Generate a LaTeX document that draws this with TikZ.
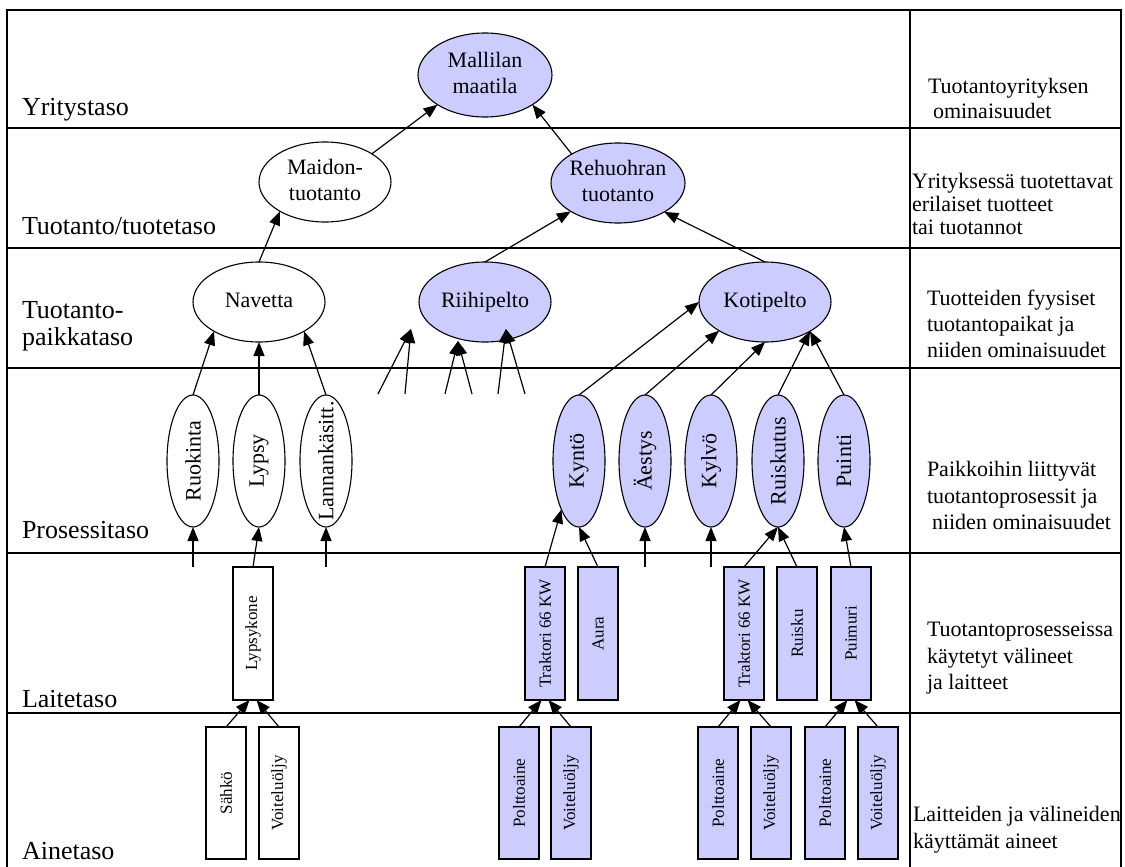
\documentclass[tikz,border=0pt]{standalone}
\usepackage{fontspec}
\setmainfont{Liberation Serif}
\usetikzlibrary{shapes.geometric,arrows.meta}
\definecolor{lavender}{RGB}{204,204,255}
% centred text of zero width, so the shape keeps its given size
\newcommand{\ctext}[1]{\makebox[0pt]{\begin{tabular}{@{}c@{}}#1\end{tabular}}}
\newcommand{\vtext}[1]{\rotatebox{90}{\makebox[0pt]{#1}}}
\begin{document}
\begin{tikzpicture}[x=1pt,y=-1pt,
  every node/.style={inner sep=0pt, outer sep=0pt},
  oval/.style={ellipse, draw, line width=1.1pt, minimum width=132pt, minimum height=80pt,
    font=\fontsize{22}{26}\selectfont},
  proc/.style={ellipse, draw, line width=1.1pt, minimum width=52pt, minimum height=132pt,
    font=\fontsize{22}{26}\selectfont},
  unitbox/.style={rectangle, draw, line width=1.1pt, minimum width=40pt, minimum height=133pt,
    font=\fontsize{17}{20}\selectfont},
  lavfill/.style={fill=lavender},
  whitefill/.style={fill=white},
  lvl/.style={anchor=base west, font=\fontsize{26}{30}\selectfont},
  sidenote/.style={anchor=base west, font=\fontsize{22}{26}\selectfont},
  link/.style={line width=1.2pt, -{Triangle[length=14pt,width=11pt]}},
  rowthin/.style={line width=1.3pt},
  rowthick/.style={line width=2pt}
]
\useasboundingbox (0,0) rectangle (1125,867);

% frame and level rows
\draw[line width=1.5pt] (7,867) -- (7,10) -- (1121,10) -- (1121,867);
\draw[line width=1.5pt] (910,10) -- (910,867);
\draw[rowthin]  (7,128) -- (1121,128);
\draw[rowthick] (7,248) -- (1121,248);
\draw[rowthin]  (7,368) -- (1121,368);
\draw[rowthick] (7,553) -- (1121,553);
\draw[rowthick] (7,713) -- (1121,713);

% level names
\node[lvl] (l1)  at (22,115) {Yritystaso};
\node[lvl] (l2)  at (22,234) {Tuotanto/tuotetaso};
\node[lvl] (l3a) at (22,318) {Tuotanto-};
\node[lvl] (l3b) at (22,345) {paikkataso};
\node[lvl] (l4)  at (22,538) {Prosessitaso};
\node[lvl] (l5)  at (22,707) {Laitetaso};
\node[lvl] (l6)  at (22,859) {Ainetaso};

% level descriptions
\node[sidenote] (d1a) at (928,93)  {Tuotantoyrityksen};
\node[sidenote] (d1b) at (933,118) {ominaisuudet};
\node[sidenote] (d2a) at (912,188) {Yrityksessä tuotettavat};
\node[sidenote] (d2b) at (912,211) {erilaiset tuotteet};
\node[sidenote] (d2c) at (912,234) {tai tuotannot};
\node[sidenote] (d3a) at (927,305) {Tuotteiden fyysiset};
\node[sidenote] (d3b) at (927,331) {tuotantopaikat ja};
\node[sidenote] (d3c) at (927,357) {niiden ominaisuudet};
\node[sidenote] (d4a) at (927,476) {Paikkoihin liittyvät};
\node[sidenote] (d4b) at (927,503) {tuotantoprosessit ja};
\node[sidenote] (d4c) at (932,529) {niiden ominaisuudet};
\node[sidenote] (d5a) at (927,636) {Tuotantoprosesseissa};
\node[sidenote] (d5b) at (927,663) {käytetyt välineet};
\node[sidenote] (d5c) at (927,689) {ja laitteet};
\node[sidenote] (d6a) at (913,821) {Laitteiden ja välineiden};
\node[sidenote] (d6b) at (913,848) {käyttämät aineet};

% enterprise, products, places
\node[oval, lavfill, minimum width=134pt, minimum height=84pt] (mall) at (485,75) {\ctext{Mallilan\\maatila}};
\node[oval, whitefill] (maid) at (325,182) {\ctext{Maidon-\\tuotanto}};
\node[oval, lavfill, minimum width=134pt] (rehu) at (618,183) {\ctext{Rehuohran\\tuotanto}};
\node[oval, whitefill] (nav)  at (259,302) {\ctext{Navetta}};
\node[oval, lavfill]   (riih) at (485,302) {\ctext{Riihipelto}};
\node[oval, lavfill]   (koti) at (765,302) {\ctext{Kotipelto}};

% processes
\node[proc, whitefill] (ruok) at (193,461) {\vtext{Ruokinta}};
\node[proc, whitefill] (lyps) at (259,461) {\vtext{Lypsy}};
\node[proc, whitefill] (lann) at (326,461) {\vtext{Lannankäsitt.}};
\node[proc, lavfill] (kynt) at (579,461) {\vtext{Kyntö}};
\node[proc, lavfill] (aest) at (645,461) {\vtext{Äestys}};
\node[proc, lavfill] (kylv) at (711,461) {\vtext{Kylvö}};
\node[proc, lavfill] (ruis) at (778,461) {\vtext{Ruiskutus}};
\node[proc, lavfill] (puin) at (844,461) {\vtext{Puinti}};

% machines
\node[unitbox, whitefill] (lypk)  at (253,633.5) {\rotatebox{90}{Lypsykone}};
\node[unitbox, lavfill] (trak1) at (545,633.5) {\rotatebox{90}{Traktori 66 KW}};
\node[unitbox, lavfill] (aura)  at (598,633.5) {\rotatebox{90}{Aura}};
\node[unitbox, lavfill] (trak2) at (744,633.5) {\rotatebox{90}{Traktori 66 KW}};
\node[unitbox, lavfill] (ruisk) at (797,633.5) {\rotatebox{90}{Ruisku}};
\node[unitbox, lavfill] (puim)  at (851,633.5) {\rotatebox{90}{Puimuri}};

% materials
\node[unitbox, whitefill, minimum height=132pt] (sahk)  at (226,793) {\rotatebox{90}{Sähkö}};
\node[unitbox, whitefill, minimum height=132pt] (voit1) at (279,793) {\rotatebox{90}{Voiteluöljy}};
\node[unitbox, lavfill, minimum height=132pt] (polt1) at (519,793) {\rotatebox{90}{Polttoaine}};
\node[unitbox, lavfill, minimum height=132pt] (voit2) at (571,793) {\rotatebox{90}{Voiteluöljy}};
\node[unitbox, lavfill, minimum height=132pt] (polt2) at (718,793) {\rotatebox{90}{Polttoaine}};
\node[unitbox, lavfill, minimum height=132pt] (voit3) at (771,793) {\rotatebox{90}{Voiteluöljy}};
\node[unitbox, lavfill, minimum height=132pt] (polt3) at (825,793) {\rotatebox{90}{Polttoaine}};
\node[unitbox, lavfill, minimum height=132pt] (voit4) at (878,793) {\rotatebox{90}{Voiteluöljy}};

% loose connector ends
\coordinate (s1) at (193,567);
\coordinate (s2) at (326,567);
\coordinate (s3) at (645,567);
\coordinate (s4) at (711,567);
\coordinate (f1) at (378,394);
\coordinate (f2) at (405,394);
\coordinate (t1) at (411,329);
\coordinate (f3) at (445,394);
\coordinate (f4) at (472,394);
\coordinate (t2) at (458,341);
\coordinate (f5) at (498,394);
\coordinate (f6) at (525,394);
\coordinate (t3) at (506,329);

% upper connectors
\draw[link] (maid.31) -- (mall.212);
\draw[link] (rehu.148) -- (mall.328);
\draw[link] (nav.north) -- (maid.213);
\draw[link] (riih.north) -- (rehu.211);
\draw[link] (koti.north) -- (rehu.328);
\draw[link] (ruok.north) -- (nav.213);
\draw[link] (lyps.north) -- (nav.south);
\draw[link] (lann.north) -- (nav.327);
\draw[link] (kynt.north) -- (koti.180);
\draw[link] (aest.north) -- (koti.212);
\draw[link] (kylv.north) -- (koti.south);
\draw[link] (ruis.north) -- (koti.327);
\draw[link] (puin.north) -- (koti.327);
\draw[link] (f1) -- (t1);
\draw[link] (f2) -- (t1);
\draw[link] (f3) -- (t2);
\draw[link] (f4) -- (t2);
\draw[link] (f5) -- (t3);
\draw[link] (f6) -- (t3);

% machines to processes
\draw[link] (s1) -- (ruok.south);
\draw[link] (lypk.north) -- (lyps.south);
\draw[link] (s2) -- (lann.south);
\draw[link] (trak1.north) -- (kynt.250);
\draw[link] (aura.north) -- (kynt.south);
\draw[link] (s3) -- (aest.south);
\draw[link] (s4) -- (kylv.south);
\draw[link] (trak2.north) -- (ruis.south);
\draw[link] (ruisk.north) -- (ruis.south);
\draw[link] (puim.north) -- (puin.south);

% materials to machines
\draw[link] (sahk.north)  -- (lypk.267);
\draw[link] (voit1.north) -- (lypk.273);
\draw[link] (polt1.north) -- (trak1.267);
\draw[link] (voit2.north) -- (trak1.273);
\draw[link] (polt2.north) -- (trak2.267);
\draw[link] (voit3.north) -- (trak2.273);
\draw[link] (polt3.north) -- (puim.267);
\draw[link] (voit4.north) -- (puim.273);
\end{tikzpicture}
\end{document}
